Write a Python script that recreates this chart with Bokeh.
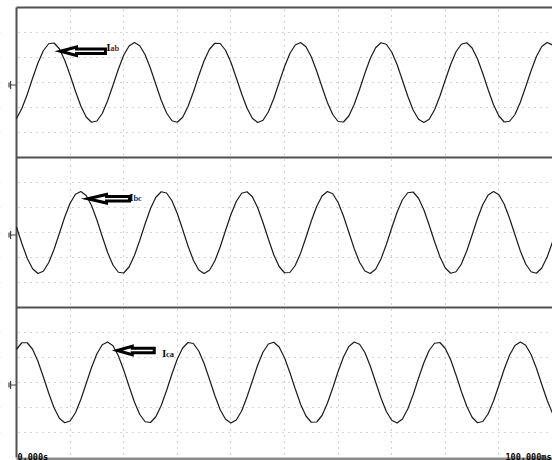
from bokeh.plotting import figure
from bokeh.models import Range1d, Grid, FixedTicker, BoxAnnotation, ColumnDataSource
from bokeh.core.properties import value
from bokeh.embed import file_html
from bokeh.resources import INLINE

# ---------------- data ----------------
time_ms = list(range(0, 101))  # sample times, ms

i_ab = [-1.44, -1.04, -0.48, 0.17, 0.78, 1.27, 1.55, 1.58, 1.35, 0.89,
        0.29, -0.35, -0.94, -1.38, -1.59, -1.54, -1.24, -0.73, -0.11, 0.53,
        1.09, 1.46, 1.60, 1.47, 1.11, 0.56, -0.08, -0.71, -1.22, -1.53,
        -1.59, -1.39, -0.96, -0.38, 0.27, 0.87, 1.33, 1.57, 1.56, 1.29,
        0.81, 0.19, -0.45, -1.02, -1.43, -1.60, -1.51, -1.17, -0.64, 0.00,
        0.63, 1.16, 1.50, 1.60, 1.43, 1.03, 0.46, -0.18, -0.80, -1.28,
        -1.56, -1.58, -1.34, -0.88, -0.28, 0.37, 0.96, 1.39, 1.59, 1.53,
        1.22, 0.72, 0.09, -0.55, -1.10, -1.47, -1.60, -1.47, -1.09, -0.54,
        0.10, 0.72, 1.23, 1.53, 1.59, 1.38, 0.95, 0.36, -0.29, -0.89,
        -1.34, -1.58, -1.55, -1.28, -0.79, -0.17, 0.47, 1.04, 1.44, 1.60,
        1.50]

i_bc = [0.22, -0.44, -1.03, -1.45, -1.64, -1.55, -1.21, -0.68, -0.03, 0.62,
        1.17, 1.53, 1.64, 1.48, 1.08, 0.50, -0.16, -0.80, -1.30, -1.59,
        -1.62, -1.38, -0.92, -0.31, 0.35, 0.96, 1.41, 1.63, 1.58, 1.27,
        0.76, 0.12, -0.54, -1.11, -1.50, -1.64, -1.51, -1.14, -0.58, 0.08,
        0.72, 1.24, 1.57, 1.63, 1.43, 0.99, 0.39, -0.27, -0.89, -1.36,
        -1.61, -1.60, -1.32, -0.83, -0.20, 0.46, 1.04, 1.46, 1.64, 1.55,
        1.20, 0.66, 0.01, -0.64, -1.19, -1.54, -1.64, -1.47, -1.06, -0.48,
        0.18, 0.81, 1.31, 1.59, 1.62, 1.37, 0.91, 0.29, -0.37, -0.97,
        -1.42, -1.63, -1.57, -1.26, -0.74, -0.10, 0.56, 1.12, 1.50, 1.64,
        1.51, 1.13, 0.56, -0.09, -0.74, -1.26, -1.57, -1.63, -1.42, -0.98,
        -0.38]

i_ca = [1.33, 1.59, 1.59, 1.33, 0.85, 0.23, -0.42, -1.01, -1.43, -1.61,
        -1.54, -1.21, -0.68, -0.04, 0.60, 1.15, 1.51, 1.62, 1.47, 1.07,
        0.50, -0.15, -0.78, -1.28, -1.57, -1.60, -1.37, -0.92, -0.32, 0.34,
        0.94, 1.38, 1.60, 1.56, 1.26, 0.76, 0.13, -0.52, -1.09, -1.47,
        -1.62, -1.50, -1.14, -0.58, 0.06, 0.70, 1.22, 1.54, 1.61, 1.42,
        0.99, 0.40, -0.25, -0.87, -1.34, -1.59, -1.58, -1.32, -0.83, -0.22,
        0.44, 1.02, 1.44, 1.62, 1.53, 1.20, 0.66, 0.02, -0.62, -1.16,
        -1.51, -1.62, -1.46, -1.06, -0.49, 0.17, 0.79, 1.29, 1.57, 1.60,
        1.36, 0.91, 0.30, -0.36, -0.95, -1.39, -1.61, -1.56, -1.25, -0.74,
        -0.11, 0.54, 1.10, 1.48, 1.62, 1.49, 1.12, 0.57, -0.08, -0.71,
        -1.23]

panel_names = ["ab", "bc", "ca"]
panel_series = [i_ab, i_bc, i_ca]
panel_centers = [15, 9, 3]          # centre of each panel on the shared 18-division scale

# arrow annotations (time ms, value in divisions)
arrow_tip_t = [8.2, 13.3, 18.8]
arrow_tip_v = [1.25, 1.35, 1.28]
arrow_head_t = [11.2, 16.8, 21.6]
arrow_tail_t = [16.6, 21.1, 25.7]
label_t = [16.8, 21.1, 27.2]
label_v = [1.40, 1.40, 1.16]
label_sub_colors = ["#6b2a1a", "#2a2f6b", "#1a1a1a"]

x_grid_ticks = [10, 20, 30, 40, 50, 60, 70, 80, 90]
y_grid_ticks = [1, 2, 3, 4, 5, 7, 8, 9, 10, 11, 13, 14, 15, 16, 17]
panel_edges = [6, 12, 18]
time_labels = ["0.000s", "100.000ms"]

# ---------------- figure ----------------
X0, X1 = -2.985, 100.0
Y0, Y1 = -0.12, 18.28
p = figure(width=552, height=460, x_range=Range1d(X0, X1), y_range=Range1d(Y0, Y1),
           x_axis_location=None, y_axis_location=None, toolbar_location=None,
           output_backend="svg", min_border=0, outline_line_color=None,
           background_fill_color="white", border_fill_color="white")
p.grid.visible = False

for name, c in zip(panel_names, panel_centers):
    p.extra_y_ranges[name] = Range1d(Y0 - c, Y1 - c)

grid_style = dict(grid_line_color="#a8a8a8", grid_line_dash="1 5", grid_line_width=1)
p.add_layout(Grid(dimension=0, ticker=FixedTicker(ticks=x_grid_ticks), **grid_style))
p.add_layout(Grid(dimension=1, ticker=FixedTicker(ticks=y_grid_ticks), **grid_style))
# keep the strip left of t=0 and above the top frame clean
p.add_layout(BoxAnnotation(right=0, fill_color="white", fill_alpha=1.0,
                           line_color=None, level="underlay"))
p.add_layout(BoxAnnotation(bottom=panel_edges[-1], fill_color="white", fill_alpha=1.0,
                           line_color=None, level="underlay"))

# panel frame lines
n = len(panel_edges)
p.segment(x0=[0] * n, y0=panel_edges, x1=[X1] * n, y1=panel_edges,
          line_color="#505050", line_width=2)
p.segment(x0=[0], y0=[0], x1=[0], y1=[panel_edges[-1]], line_color="#505050", line_width=2)
p.segment(x0=[0], y0=[-0.06], x1=[X1], y1=[-0.06], line_color="#8c8c8c", line_width=3)

head_half, shaft_half = 0.17, 0.09

for i, name in enumerate(panel_names):
    src = ColumnDataSource(dict(t=time_ms, v=panel_series[i]))
    p.line("t", "v", source=src, y_range_name=name, line_color="#1a1a1a", line_width=1.2)

    # hollow arrow
    tip, v, hb, tail = arrow_tip_t[i], arrow_tip_v[i], arrow_head_t[i], arrow_tail_t[i]
    xs = [tip, hb, hb, tail, tail, hb, hb]
    ys = [v, v + head_half, v + shaft_half, v + shaft_half,
          v - shaft_half, v - shaft_half, v - head_half]
    p.patch(xs, ys, y_range_name=name, fill_color="white", line_color="black",
            line_width=3, line_join="miter")

    # label "I" + subscript letters
    p.text(x=[label_t[i]], y=[label_v[i]], text=["I"], y_range_name=name,
           text_font=value("Liberation Serif"), text_font_style="bold",
           text_font_size="10px", text_color="black", text_baseline="alphabetic")
    p.text(x=[label_t[i]], y=[label_v[i]], text=[name], y_range_name=name, x_offset=3.8,
           text_font=value("Liberation Serif"), text_font_style="bold",
           text_font_size="8.5px", text_color=label_sub_colors[i], text_baseline="alphabetic")

    # ground reference marker at the left edge
    p.multi_line(xs=[[-1.1, 0.0], [-1.1, -1.1], [-1.4, -1.4]],
                 ys=[[-0.1, -0.1], [0.06, -0.26], [0.0, -0.2]],
                 y_range_name=name, line_color="#444444", line_width=1.2)

p.text(x=[0], y=[0], text=[time_labels[0]], x_offset=1, y_offset=-1,
       text_font=value("DejaVu Sans Mono"), text_font_style="bold", text_font_size="8.5px",
       text_color="black", text_baseline="alphabetic", text_align="left")
p.text(x=[X1], y=[0], text=[time_labels[1]], x_offset=-1, y_offset=-1,
       text_font=value("DejaVu Sans Mono"), text_font_style="bold", text_font_size="8.5px",
       text_color="black", text_baseline="alphabetic", text_align="right")

open("out.html", "w").write(file_html(p, INLINE))
